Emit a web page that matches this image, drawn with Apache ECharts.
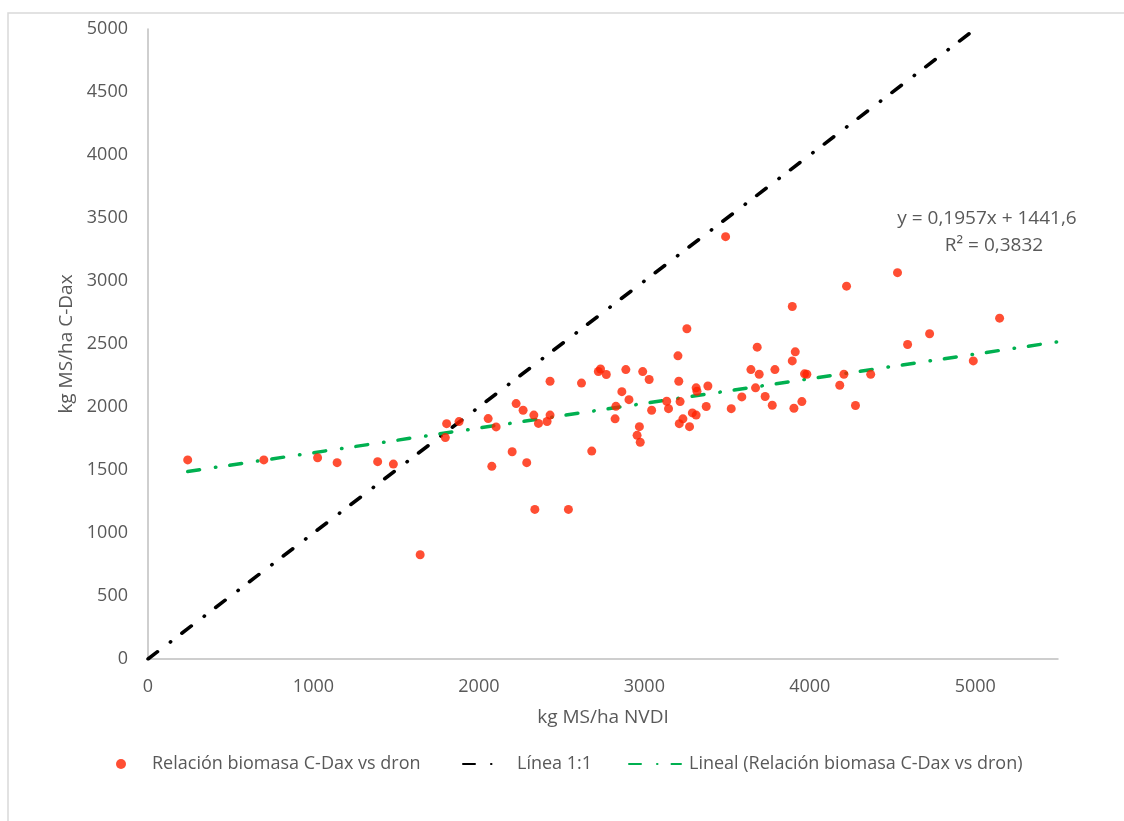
<!DOCTYPE html>
<html>
<head>
<meta charset="utf-8">
<script src="https://cdn.jsdelivr.net/npm/echarts@6/dist/echarts.min.js"></script>
<style>
html,body{margin:0;padding:0;background:#fff;}
#chart{width:1124px;height:821px;}
</style>
</head>
<body>
<div id="chart"></div>
<script>
// Scatter points: [kg MS/ha NVDI, kg MS/ha C-Dax]
const pointsX = [240,700,1025,1143,1388,1483,1645,1805,1880,1797,
  2056,2104,2078,2201,2225,2267,2289,2332,2338,2360,2412,2430,2430,2541,2620,2682,
  2722,2735,2770,2823,2828,2864,2888,2907,2956,2970,2975,2990,3029,3044,
  3135,3146,3203,3208,3211,3216,3233,3257,3273,3290,3313,3313,3318,3374,3384,3491,3525,3589,
  3644,3672,3682,3694,3730,3773,3789,3894,3894,3904,3912,3952,3968,3982,
  4181,4206,4222,4276,4368,4530,4591,4724,4988,5147];
const pointsY = [1580,1580,1597,1558,1566,1547,827,1868,1884,1757,
  1908,1842,1529,1645,2027,1974,1558,1936,1187,1870,1885,1936,2204,1187,2190,1650,
  2282,2302,2258,1906,2005,2122,2297,2058,1775,1844,1720,2281,2218,1974,
  2046,1987,2406,2204,1868,2043,1906,2621,1844,1953,1936,2152,2125,2004,2167,3352,1987,2080,
  2297,2152,2475,2260,2083,2014,2297,2798,2366,1990,2438,2043,2263,2260,
  2173,2260,2959,2012,2259,3066,2496,2581,2366,2705];
const lineOneX = [0, 5000];
const lineOneY = [0, 5000];
const trendSlope = 0.1957;
const trendIntercept = 1441.6;
const trendX = [240, 5500];
const xTicks = [0, 1000, 2000, 3000, 4000, 5000];
const seriesNames = ['Relación biomasa C-Dax vs dron', 'Línea 1:1', 'Lineal (Relación biomasa C-Dax vs dron)'];
const eqText = 'y = 0,1957x + 1441,6';
const r2Text = 'R² = 0,3832';

const scatterData = pointsX.map((x, i) => [x, pointsY[i]]);
const oneData = lineOneX.map((x, i) => [x, lineOneY[i]]);
const trendData = trendX.map(x => [x, trendSlope * x + trendIntercept]);

const FONT = '"Open Sans", "Noto Sans", sans-serif';
const TXT = '#595959';
const DASHDOT = [12, 16, 0.5, 14];

const chart = echarts.init(document.getElementById('chart'));
chart.setOption({
  animation: false,
  backgroundColor: '#fff',
  textStyle: {fontFamily: FONT},
  grid: {left: 148, top: 29, right: 66, bottom: 162, containLabel: false},
  xAxis: {
    type: 'value', min: 0, max: 5500, interval: 1000,
    name: 'kg MS/ha NVDI', nameLocation: 'middle', nameGap: 49,
    nameTextStyle: {color: TXT, fontSize: 19, fontFamily: FONT},
    axisLine: {show: true, lineStyle: {color: '#bfbfbf', width: 1.5}},
    axisTick: {show: false},
    splitLine: {show: false},
    axisLabel: {color: TXT, fontSize: 18, margin: 19, fontFamily: FONT,
      formatter: v => xTicks.indexOf(v) >= 0 ? String(v) : ''}
  },
  yAxis: {
    type: 'value', min: 0, max: 5000, interval: 500,
    name: 'kg MS/ha C-Dax', nameLocation: 'middle', nameGap: 63,
    nameTextStyle: {color: TXT, fontSize: 19, fontFamily: FONT},
    axisLine: {show: true, lineStyle: {color: '#bfbfbf', width: 1.5}},
    axisTick: {show: false},
    splitLine: {show: false},
    axisLabel: {color: TXT, fontSize: 18, margin: 20, fontFamily: FONT,
      formatter: v => String(v)}
  },
  legend: [
    {data: [{name: seriesNames[0], icon: 'circle'}], left: 116, top: 755, padding: 0, itemWidth: 10, itemHeight: 10,
     textStyle: {color: TXT, fontSize: 18, fontFamily: FONT, padding: [0, 0, 0, 21]}},
    {data: [seriesNames[1]], left: 462, top: 755, padding: 0, itemWidth: 40, itemHeight: 10,
     itemStyle: {opacity: 0},
     textStyle: {color: TXT, fontSize: 18, fontFamily: FONT, padding: [0, 0, 0, 9]}},
    {data: [seriesNames[2]], left: 628, top: 755, padding: 0, itemWidth: 52, itemHeight: 10,
     itemStyle: {opacity: 0},
     textStyle: {color: TXT, fontSize: 18, fontFamily: FONT, padding: [0, 0, 0, 3]}}
  ],
  graphic: [
    {type: 'rect', shape: {x: 8, y: 13, width: 1300, height: 1000},
     style: {fill: 'none', stroke: '#d9d9d9', lineWidth: 1.5}, silent: true, z: -10},
    {type: 'text', x: 987, y: 219, style: {text: eqText, fill: TXT, font: '19px ' + FONT, textAlign: 'center', textVerticalAlign: 'middle'}},
    {type: 'text', x: 994, y: 246, style: {text: r2Text, fill: TXT, font: '19px ' + FONT, textAlign: 'center', textVerticalAlign: 'middle'}}
  ],
  series: [
    {
      name: seriesNames[0], type: 'scatter', data: scatterData,
      symbol: 'circle', symbolSize: 9, z: 5,
      itemStyle: {color: '#ff2200'}
    },
    {
      name: seriesNames[1], type: 'line', data: oneData,
      symbol: 'none', z: 3,
      itemStyle: {color: '#000'},
      lineStyle: {color: '#000', width: 3.5, type: DASHDOT, cap: 'round'}
    },
    {
      name: seriesNames[2], type: 'line', data: trendData,
      symbol: 'none', z: 4,
      itemStyle: {color: '#00b050'},
      lineStyle: {color: '#00b050', width: 3.5, type: DASHDOT, cap: 'round'}
    }
  ]
});
</script>
</body>
</html>
